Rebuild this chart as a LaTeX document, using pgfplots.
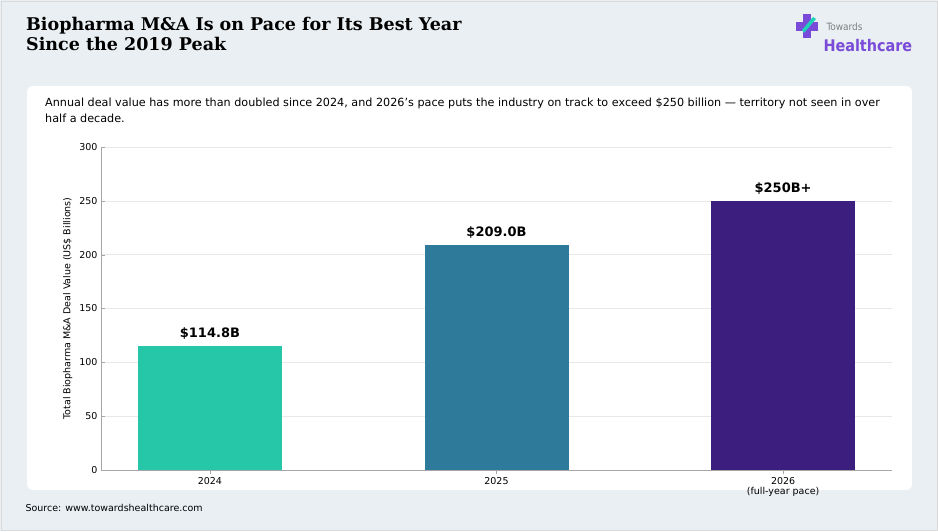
\documentclass[border=0pt]{standalone}
\usepackage{pgfplots}
\pgfplotsset{compat=1.18}
\usepackage{fontspec}
\setmainfont{DejaVu Sans}
\newfontfamily\titlefont{DejaVu Serif}
\newfontfamily\logofont{DejaVu Sans Condensed}
\definecolor{bgc}{HTML}{E9EFF2}
\definecolor{c1}{HTML}{26C6A8}
\definecolor{c2}{HTML}{2E7A9A}
\definecolor{c3}{HTML}{3B1E7E}
\definecolor{logop}{HTML}{7A4BD8}
\begin{document}
\begin{tikzpicture}[x=1pt,y=1pt]
\useasboundingbox (0,0) rectangle (938,531);
\fill[bgc] (0,0) rectangle (938,531);
\draw[gray!30,line width=0.8pt] (1,1) rectangle (937,530);
\fill[white,rounded corners=6pt] (27,41) rectangle (912,445);
\node[anchor=north west,align=left,font=\titlefont\bfseries\fontsize{17.5}{20}\selectfont,inner sep=0pt] at (26,514) {Biopharma M\&A Is on Pace for Its Best Year\\Since the 2019 Peak};
\node[anchor=north west,align=left,font=\fontsize{11.2}{16}\selectfont,inner sep=0pt] at (45,433) {Annual deal value has more than doubled since 2024, and 2026's pace puts the industry on track to exceed \$250 billion — territory not seen in over\\half a decade.};
\node[anchor=south west,font=\fontsize{9.5}{11}\selectfont] at (22,16) {Source: www.towardshealthcare.com};
% logo
\fill[logop] (803,493) rectangle (811,517);
\fill[logop] (796,500) rectangle (818,509);
\fill[c1!80!cyan] (804,498) -- (816,512) -- (813,514) -- (802,501) -- cycle;
\node[anchor=south west,font=\logofont\fontsize{10}{12}\selectfont,text=gray] at (823,497) {Towards};
\node[anchor=south west,font=\logofont\bfseries\fontsize{16}{17}\selectfont,text=logop] at (820,476) {Healthcare};
\begin{axis}[
  at={(101pt,61pt)}, anchor=south west, scale only axis,
  width=791pt, height=323pt,
  xmin=-0.38, xmax=2.38, ymin=0, ymax=300,
  ytick={0,50,...,300},
  xtick={0,1,2},
  xticklabels={2024,2025,{2026\\(full-year pace)}},
  xticklabel style={align=center,font=\fontsize{9.5}{10}\selectfont},
  yticklabel style={font=\fontsize{9.5}{10}\selectfont},
  /pgf/number format/assume math mode=true,
  axis x line*=bottom, axis y line*=left,
  axis line style={gray!70},
  tick style={gray!70},
  ymajorgrids, grid style={gray!18},
  ylabel={Total Biopharma M\&A Deal Value (US\$ Billions)},
  ylabel style={font=\fontsize{9.5}{10}\selectfont},
  ybar, bar width=144pt, bar shift=0pt,
  nodes near coords, 
  nodes near coords style={font=\bfseries\fontsize{13}{14}\selectfont,yshift=3pt},
]
\addplot[fill=c1,draw=none,nodes near coords={\$114.8B}] coordinates {(0,114.8)};
\addplot[fill=c2,draw=none,nodes near coords={\$209.0B}] coordinates {(1,209.0)};
\addplot[fill=c3,draw=none,nodes near coords={\$250B+}] coordinates {(2,250)};
\end{axis}
\end{tikzpicture}
\end{document}
